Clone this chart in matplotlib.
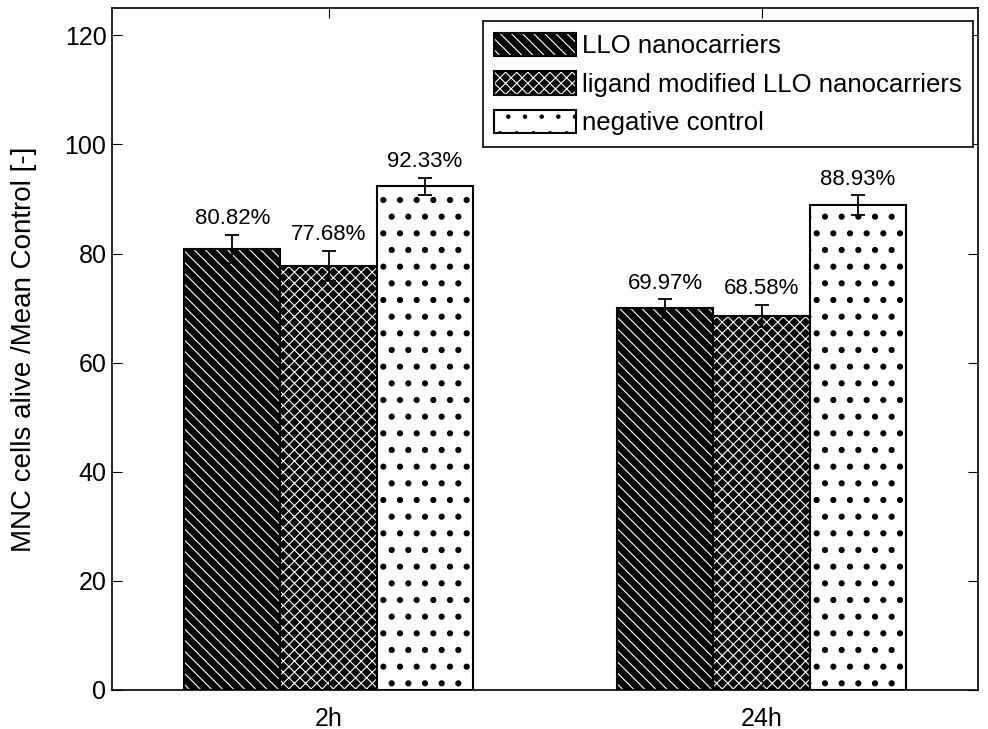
import matplotlib
matplotlib.use("Agg")
from matplotlib import pyplot as plt
import numpy as np

plt.rcParams["font.family"] = ["Liberation Sans", "DejaVu Sans"]
plt.rcParams["hatch.linewidth"] = 0.8

# data
groups = ["2h", "24h"]
series = ["LLO nanocarriers", "ligand modified LLO nanocarriers", "negative control"]
llo = [80.82, 69.97]
ligand = [77.68, 68.58]
control = [92.33, 88.93]
llo_err = [2.6, 1.7]
ligand_err = [2.8, 2.0]
control_err = [1.6, 1.8]

values = [llo, ligand, control]
errors = [llo_err, ligand_err, control_err]
faces = ["black", "black", "white"]
hatch_colors = ["white", "white", "black"]
hatches = ["\\\\\\", "xxx", "."]
hatch_widths = [0.8, 0.8, 2.0]

fig = plt.figure(figsize=(9.88, 7.29), dpi=100)
ax = fig.add_axes([0.1134, 0.0535, 0.8765, 0.9355])

x = np.arange(1, len(groups) + 1)
width = 0.222
handles = []
for i in range(len(series)):
    pos = x + (i - 1) * width
    # hatched fill, then a black outline on top
    b1 = ax.bar(pos, values[i], width, color=faces[i], edgecolor=hatch_colors[i],
                hatch=hatches[i], linewidth=0)
    for r in b1:
        if hasattr(r, "set_hatch_linewidth"):
            r.set_hatch_linewidth(hatch_widths[i])
    b2 = ax.bar(pos, values[i], width, fill=False, edgecolor="black", linewidth=1.5)
    ax.errorbar(pos, values[i], yerr=errors[i], fmt="none", ecolor="black",
                elinewidth=1.3, capsize=5, capthick=1.3)
    for p, v, e in zip(pos, values[i], errors[i]):
        ax.text(p, v + e + 1.0, "%.2f%%" % v, ha="center", va="bottom", fontsize=16)
    handles.append((b1[0], b2[0]))

ax.set_xlim(0.5, 2.5)
ax.set_ylim(0, 125)
ax.set_yticks(range(0, 121, 20))
ax.set_xticks(x)
ax.set_xticklabels(groups)
ax.tick_params(direction="in", top=True, right=True, labelsize=18, length=7)
ax.tick_params(axis="x", pad=12)
ax.tick_params(axis="y", pad=4)
for s in ax.spines.values():
    s.set_linewidth(1.2)
ax.set_ylabel("MNC cells alive /Mean Control [-]", fontsize=20, labelpad=20)

leg = ax.legend(handles, series, loc="upper right", bbox_to_anchor=(0.994, 0.981),
                borderaxespad=0, fancybox=False, edgecolor="black", framealpha=1,
                fontsize=18.5, handlelength=3.2, handleheight=1.05, labelspacing=0.5,
                handletextpad=0.2, borderpad=0.45)
leg.get_frame().set_linewidth(1.2)

fig.savefig("out.png", dpi=100)
